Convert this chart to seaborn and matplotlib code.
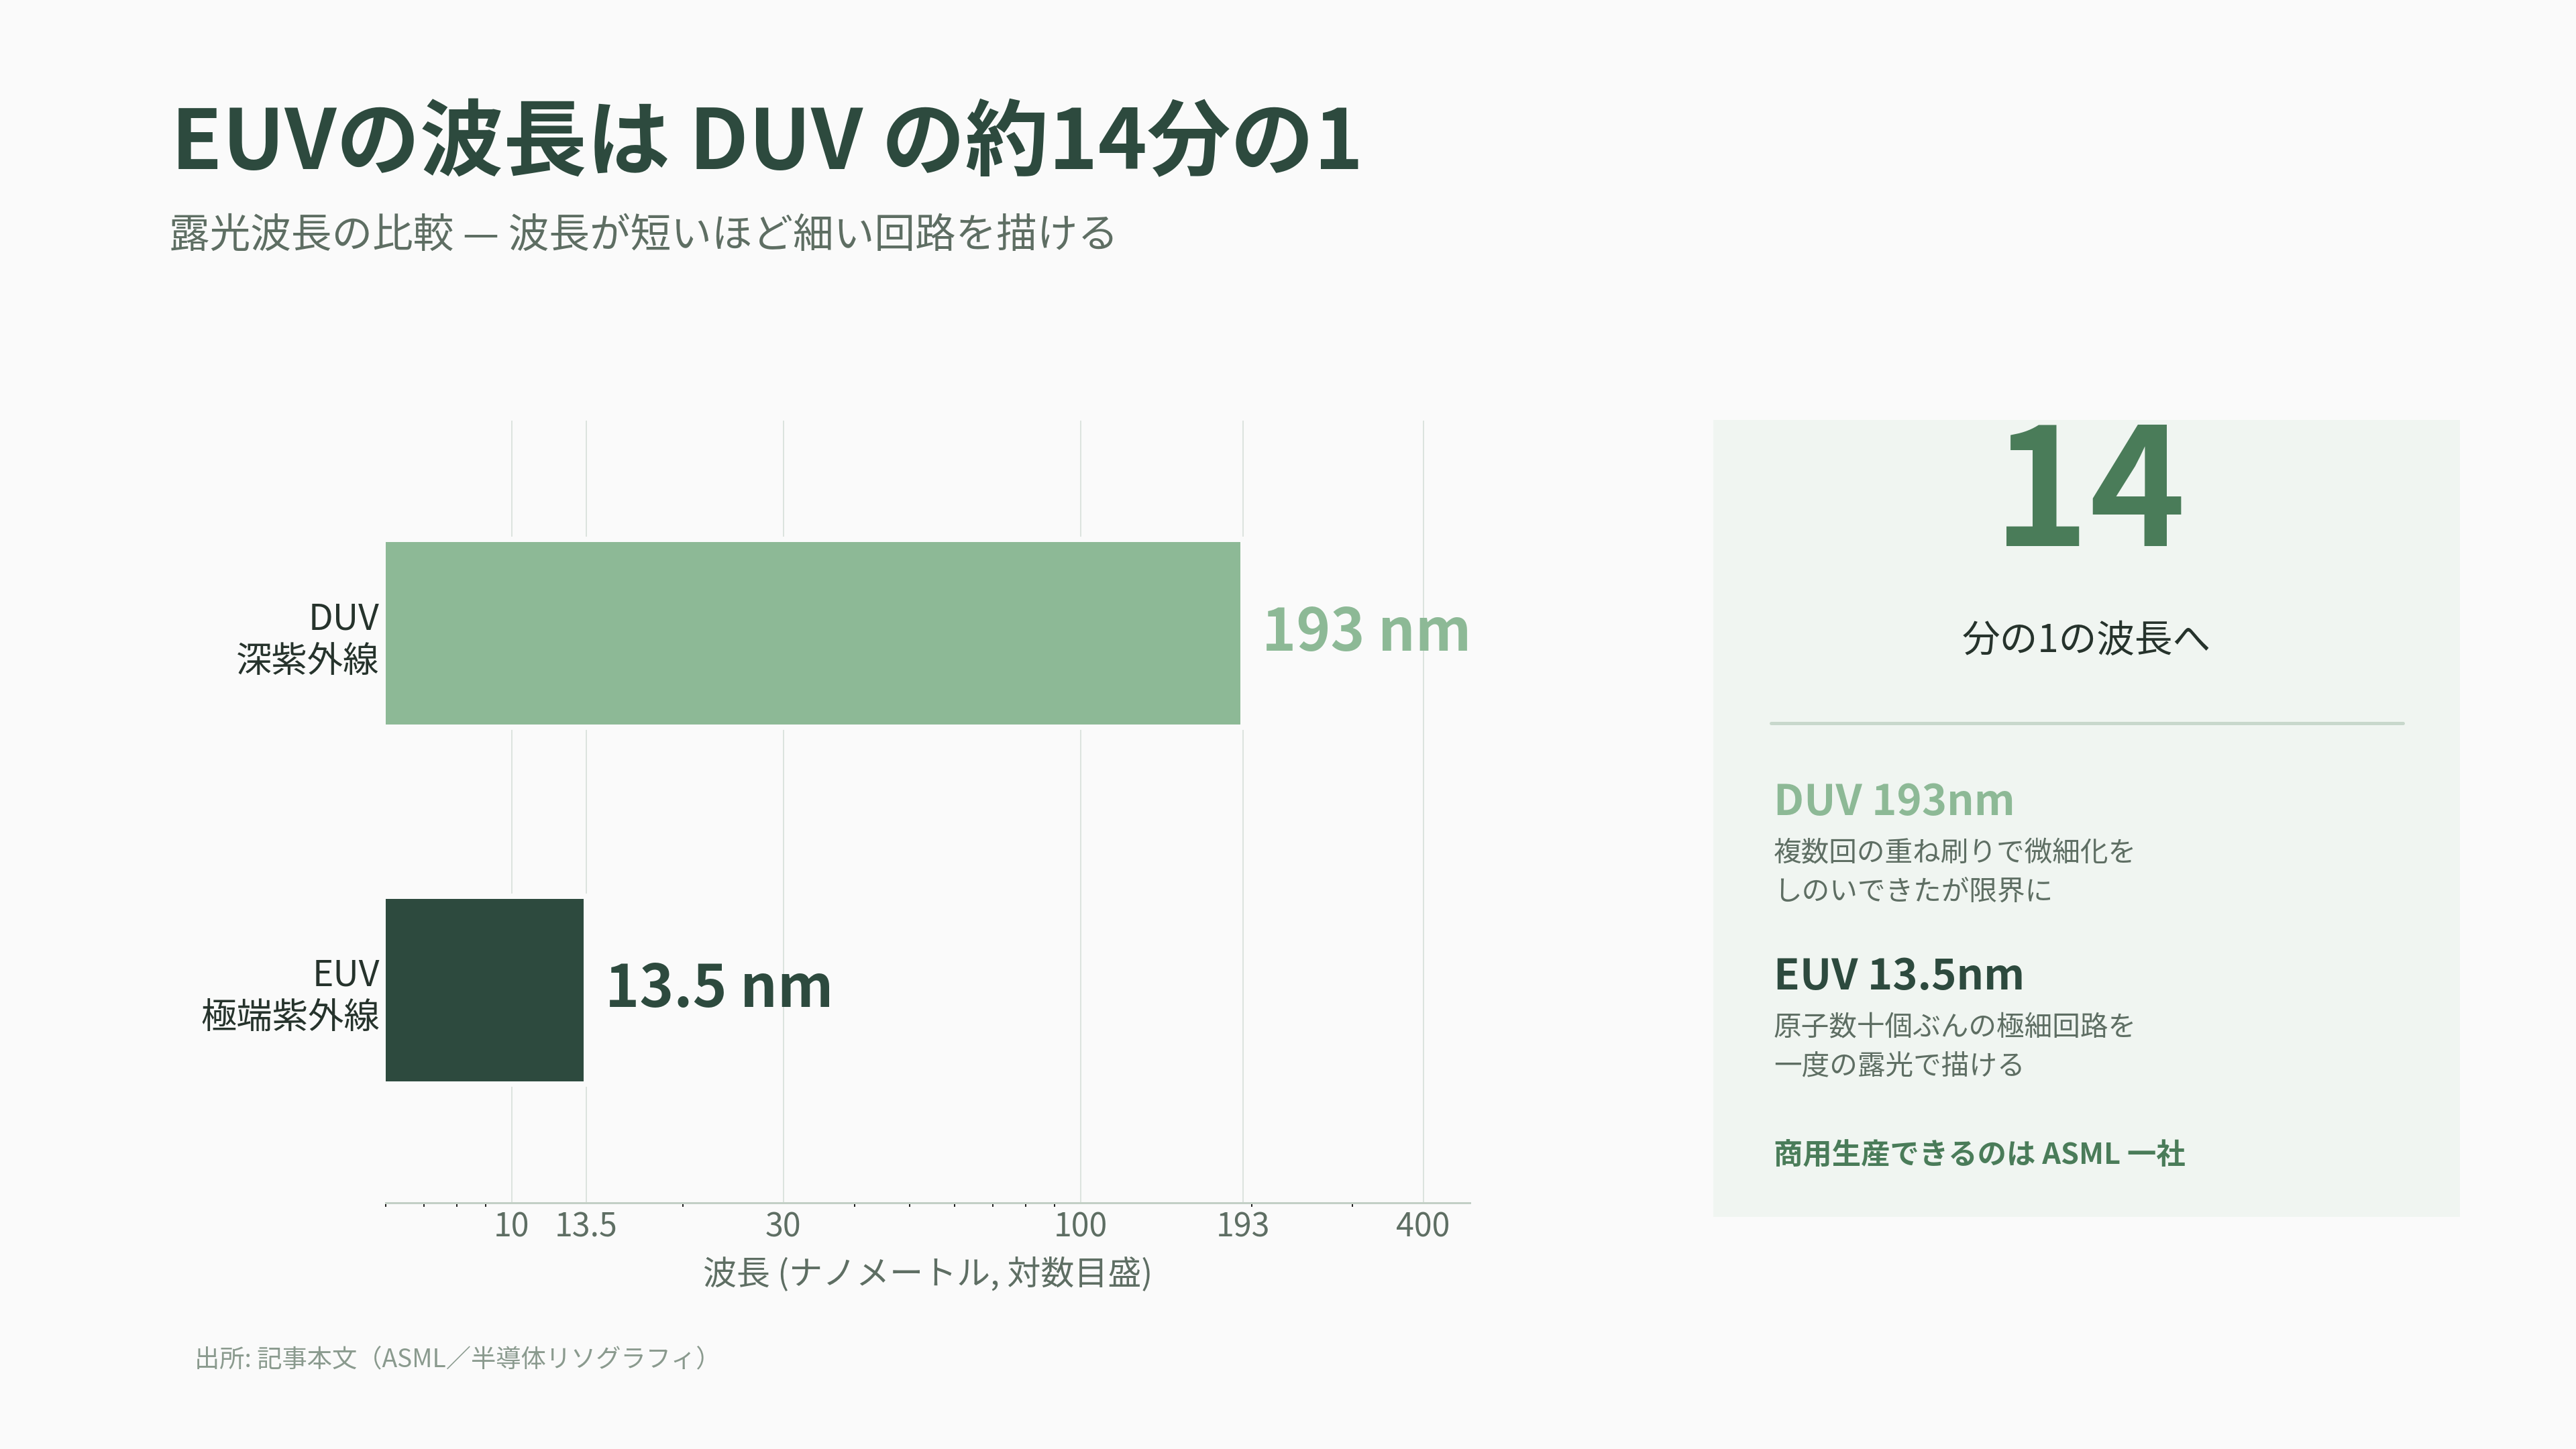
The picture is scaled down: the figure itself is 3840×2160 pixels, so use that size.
import matplotlib
matplotlib.use("Agg")
import matplotlib.pyplot as plt
import seaborn as sns
import pandas as pd
from matplotlib.ticker import FixedLocator, FixedFormatter, NullFormatter
from matplotlib.patches import Rectangle
from matplotlib.lines import Line2D

# data
bands = ['DUV\n深紫外線', 'EUV\n極端紫外線']
wavelength_nm = [193, 13.5]
value_labels = ['193 nm', '13.5 nm']
major_ticks = [10, 13.5, 30, 100, 193, 400]
major_labels = ['10', '13.5', '30', '100', '193', '400']
minor_ticks = [6, 7, 8, 9, 20, 40, 50, 60, 70, 80, 90, 200, 300]
x_range = (6, 482.5)

# colours
bg = '#FAFAFA'
panel_bg = '#F0F5F1'
dark = '#2D4A3E'
light = '#8DB996'
accent = '#4A7C59'
muted = '#5E6E63'
ink = '#26332C'
bar_colors = [light, dark]

sns.set_theme(style="white")
plt.rcParams['font.family'] = ['Noto Sans CJK JP', 'DejaVu Sans']

df = pd.DataFrame({'band': bands, 'nm': wavelength_nm})

fig = plt.figure(figsize=(16, 9), dpi=240, facecolor=bg)
ax = fig.add_axes([0.1497, 0.1699, 0.4208, 0.5398])
ax.set_facecolor(bg)
ax.set_xscale('log')

sns.barplot(data=df, x='nm', y='band', hue='band', palette=bar_colors,
            orient='h', width=0.527, edgecolor=bg, linewidth=2.4,
            saturation=1, legend=False, ax=ax)

ax.set_xlim(*x_range)
ax.set_ylim(1.597, -0.597)

ax.xaxis.set_major_locator(FixedLocator(major_ticks))
ax.xaxis.set_major_formatter(FixedFormatter(major_labels))
ax.xaxis.set_minor_locator(FixedLocator(minor_ticks))
ax.xaxis.set_minor_formatter(NullFormatter())
ax.tick_params(axis='x', which='major', length=0, pad=3.5, labelsize=14.5, labelcolor=muted)
ax.tick_params(axis='x', which='minor', length=1.8, width=0.6, color='#222222', bottom=True)
ax.tick_params(axis='y', length=0, pad=2.7, labelsize=16, labelcolor=ink)
for lbl in ax.get_yticklabels():
    lbl.set_multialignment('right')

ax.grid(True, axis='x', which='major', color='#DCE3DE', linewidth=0.6)
ax.set_axisbelow(True)

for side in ['top', 'right', 'left']:
    ax.spines[side].set_visible(False)
ax.spines['bottom'].set_color('#C2CFC5')
ax.spines['bottom'].set_linewidth(0.9)

ax.set_ylabel('')
ax.set_xlabel('波長 (ナノメートル, 対数目盛)', fontsize=15, color=muted, labelpad=6)

for i, (val, txt) in enumerate(zip(wavelength_nm, value_labels)):
    ax.annotate(txt, xy=(val, i), xytext=(8.4, 0), textcoords='offset points',
                ha='left', va='center', fontsize=26, fontweight='bold',
                color=bar_colors[i])

# title block
fig.text(0.0664, 0.8833, 'EUVの波長は DUV の約14分の1', fontsize=37.3,
         fontweight='bold', color=dark, ha='left', va='baseline')
fig.text(0.0656, 0.837, '露光波長の比較 — 波長が短いほど細い回路を描ける',
         fontsize=18.2, color=muted, ha='left', va='center')
fig.text(0.0755, 0.0611, '出所: 記事本文（ASML／半導体リソグラフィ）',
         fontsize=11.2, color='#8A9A8E', ha='left', va='center')

# side panel
fig.patches.append(Rectangle((0.6651, 0.1602), 0.2898, 0.55,
                             transform=fig.transFigure, facecolor=panel_bg,
                             edgecolor='none', zorder=0))
fig.text(0.8112, 0.6231, '14', fontsize=73, fontweight='bold', color=accent,
         ha='center', va='baseline')
fig.text(0.81, 0.5574, '分の1の波長へ', fontsize=17, color=ink,
         ha='center', va='center')
fig.lines.append(Line2D([0.6875, 0.9328], [0.5009, 0.5009],
                        transform=fig.transFigure, color='#C8D8CC', linewidth=1.5))
fig.text(0.6885, 0.4375, 'DUV 193nm', fontsize=19, fontweight='bold',
         color=light, ha='left', va='baseline')
fig.text(0.6885, 0.4111, '複数回の重ね刷りで微細化を', fontsize=12.5,
         color=muted, ha='left', va='center')
fig.text(0.6885, 0.3843, 'しのいできたが限界に', fontsize=12.5,
         color=muted, ha='left', va='center')
fig.text(0.6885, 0.3171, 'EUV 13.5nm', fontsize=19, fontweight='bold',
         color=dark, ha='left', va='baseline')
fig.text(0.6885, 0.2907, '原子数十個ぶんの極細回路を', fontsize=12.5,
         color=muted, ha='left', va='center')
fig.text(0.6885, 0.2639, '一度の露光で描ける', fontsize=12.5,
         color=muted, ha='left', va='center')
fig.text(0.6885, 0.2028, '商用生産できるのは ASML 一社', fontsize=13,
         fontweight='bold', color=accent, ha='left', va='center')

fig.savefig('out.png', dpi=240, facecolor=bg)
